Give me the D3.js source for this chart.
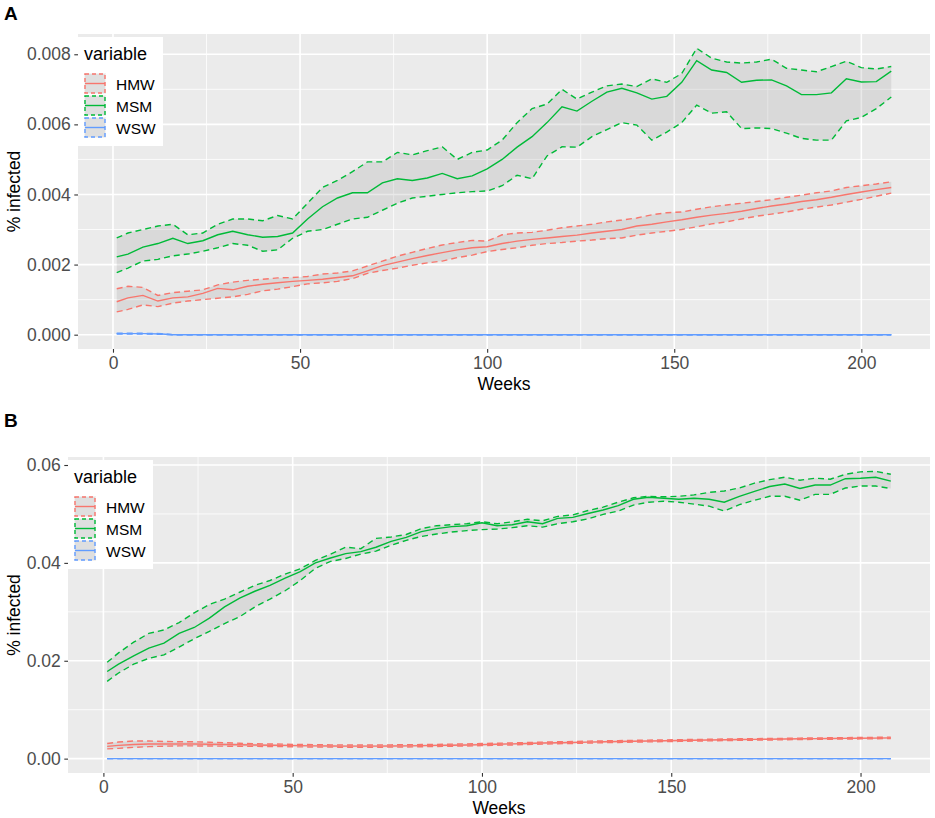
<!DOCTYPE html>
<html lang="en">
<head>
<meta charset="UTF-8">
<title>% infected by week</title>
<script src="https://d3js.org/d3.v7.min.js"></script>
<style>
  body { margin: 0; padding: 0; background: #fff; }
  svg { display: block; font-family: "Liberation Sans", Arial, Helvetica, sans-serif; }
</style>
</head>
<body>
<div id="chart"></div>
<script>
// ---- values ----
const seriesNames = ["HMW", "MSM", "WSW"];

// sampled weeks shared by the HMW / MSM series
const weeks = [1, 4, 8, 12, 16, 20, 24, 28, 32, 36,
  40, 44, 48, 52, 56, 60, 64, 68, 72, 76,
  80, 84, 88, 92, 96, 100, 104, 108, 112, 116,
  120, 124, 128, 132, 136, 140, 144, 148, 152, 156,
  160, 164, 168, 172, 176, 180, 184, 188, 192, 196,
  200, 204, 208];

const xTicks = [0, 50, 100, 150, 200];
const yTicksA = [0, 0.002, 0.004, 0.006, 0.008];
const yTicksB = [0, 0.02, 0.04, 0.06];

// panel A
const hmwA_mean = [0.00094, 0.00105, 0.00112, 0.00096, 0.00105, 0.00108, 0.00118, 0.00132, 0.00128, 0.00138,
  0.00144, 0.00148, 0.00152, 0.00155, 0.00158, 0.00163, 0.00168, 0.00182, 0.00197, 0.00207,
  0.00217, 0.00226, 0.00234, 0.00242, 0.00248, 0.00251, 0.00260, 0.00267, 0.00272, 0.00276,
  0.00280, 0.00284, 0.00290, 0.00295, 0.00300, 0.00310, 0.00315, 0.00322, 0.00328, 0.00335,
  0.00341, 0.00346, 0.00352, 0.00360, 0.00367, 0.00373, 0.00380, 0.00385, 0.00392, 0.00400,
  0.00407, 0.00414, 0.00420];
const hmwA_hi = [0.00131, 0.00138, 0.00135, 0.00112, 0.00120, 0.00124, 0.00128, 0.00142, 0.00150, 0.00155,
  0.00158, 0.00162, 0.00163, 0.00166, 0.00173, 0.00176, 0.00182, 0.00196, 0.00210, 0.00224,
  0.00235, 0.00246, 0.00256, 0.00263, 0.00269, 0.00267, 0.00285, 0.00290, 0.00292, 0.00298,
  0.00305, 0.00310, 0.00315, 0.00322, 0.00327, 0.00333, 0.00342, 0.00348, 0.00350, 0.00358,
  0.00365, 0.00370, 0.00375, 0.00380, 0.00385, 0.00392, 0.00398, 0.00405, 0.00410, 0.00420,
  0.00425, 0.00430, 0.00436];
const hmwA_lo = [0.00065, 0.00072, 0.00085, 0.00080, 0.00090, 0.00096, 0.00100, 0.00104, 0.00108, 0.00115,
  0.00125, 0.00130, 0.00137, 0.00145, 0.00148, 0.00152, 0.00160, 0.00175, 0.00183, 0.00190,
  0.00198, 0.00205, 0.00210, 0.00220, 0.00227, 0.00237, 0.00243, 0.00248, 0.00255, 0.00260,
  0.00263, 0.00267, 0.00270, 0.00274, 0.00276, 0.00284, 0.00290, 0.00295, 0.00300, 0.00308,
  0.00316, 0.00322, 0.00330, 0.00338, 0.00344, 0.00350, 0.00358, 0.00364, 0.00370, 0.00378,
  0.00386, 0.00395, 0.00404];

const msmA_mean = [0.00222, 0.00230, 0.00250, 0.00260, 0.00275, 0.00260, 0.00268, 0.00285, 0.00295, 0.00285,
  0.00278, 0.00280, 0.00290, 0.00330, 0.00365, 0.00390, 0.00405, 0.00405, 0.00433, 0.00445,
  0.00440, 0.00447, 0.00460, 0.00445, 0.00453, 0.00473, 0.00500, 0.00535, 0.00565, 0.00605,
  0.00650, 0.00638, 0.00666, 0.00692, 0.00703, 0.00690, 0.00672, 0.00680, 0.00720, 0.00782,
  0.00755, 0.00748, 0.00720, 0.00726, 0.00727, 0.00710, 0.00685, 0.00685, 0.00690, 0.00730,
  0.00721, 0.00722, 0.00752];
const msmA_hi = [0.00276, 0.00290, 0.00300, 0.00310, 0.00315, 0.00285, 0.00290, 0.00315, 0.00330, 0.00330,
  0.00325, 0.00340, 0.00330, 0.00375, 0.00420, 0.00440, 0.00465, 0.00493, 0.00493, 0.00520,
  0.00513, 0.00525, 0.00536, 0.00500, 0.00520, 0.00527, 0.00555, 0.00605, 0.00645, 0.00658,
  0.00700, 0.00672, 0.00692, 0.00710, 0.00715, 0.00708, 0.00730, 0.00720, 0.00745, 0.00817,
  0.00789, 0.00778, 0.00775, 0.00778, 0.00786, 0.00760, 0.00755, 0.00750, 0.00765, 0.00780,
  0.00762, 0.00758, 0.00765];
const msmA_lo = [0.00177, 0.00190, 0.00210, 0.00215, 0.00225, 0.00230, 0.00238, 0.00248, 0.00260, 0.00255,
  0.00238, 0.00242, 0.00275, 0.00295, 0.00300, 0.00315, 0.00330, 0.00335, 0.00355, 0.00375,
  0.00390, 0.00395, 0.00400, 0.00405, 0.00408, 0.00410, 0.00425, 0.00455, 0.00445, 0.00510,
  0.00536, 0.00535, 0.00565, 0.00585, 0.00605, 0.00598, 0.00555, 0.00578, 0.00605, 0.00655,
  0.00632, 0.00636, 0.00588, 0.00590, 0.00588, 0.00575, 0.00560, 0.00555, 0.00555, 0.00610,
  0.00620, 0.00645, 0.00678];

const wswA_weeks = [1, 8, 13, 16, 208];
const wswA_mean = [0.00003, 0.00003, 0.00002, 0, 0];
const wswA_hi = [0.00004, 0.00004, 0.00003, 0, 0];
const wswA_lo = [0.00002, 0.00002, 0.00001, 0, 0];

// panel B
const hmwB_mean = [0.00250, 0.00270, 0.00290, 0.00300, 0.00300, 0.00300, 0.00300, 0.00295, 0.00290, 0.00285,
  0.00280, 0.00275, 0.00270, 0.00265, 0.00260, 0.00258, 0.00255, 0.00255, 0.00255, 0.00258,
  0.00260, 0.00265, 0.00270, 0.00275, 0.00280, 0.00287, 0.00295, 0.00302, 0.00310, 0.00318,
  0.00325, 0.00330, 0.00338, 0.00345, 0.00350, 0.00355, 0.00360, 0.00365, 0.00370, 0.00375,
  0.00380, 0.00385, 0.00390, 0.00393, 0.00397, 0.00400, 0.00405, 0.00408, 0.00412, 0.00415,
  0.00418, 0.00420, 0.00425];
const hmwB_hi = [0.00310, 0.00340, 0.00360, 0.00360, 0.00350, 0.00345, 0.00345, 0.00335, 0.00325, 0.00315,
  0.00305, 0.00300, 0.00295, 0.00290, 0.00285, 0.00282, 0.00280, 0.00280, 0.00280, 0.00282,
  0.00285, 0.00288, 0.00292, 0.00297, 0.00302, 0.00308, 0.00315, 0.00322, 0.00330, 0.00337,
  0.00344, 0.00350, 0.00357, 0.00363, 0.00368, 0.00373, 0.00378, 0.00383, 0.00387, 0.00392,
  0.00396, 0.00401, 0.00405, 0.00408, 0.00412, 0.00415, 0.00420, 0.00423, 0.00427, 0.00430,
  0.00433, 0.00436, 0.00440];
const hmwB_lo = [0.00200, 0.00210, 0.00230, 0.00245, 0.00255, 0.00260, 0.00260, 0.00258, 0.00255, 0.00252,
  0.00250, 0.00248, 0.00245, 0.00240, 0.00237, 0.00235, 0.00233, 0.00232, 0.00232, 0.00235,
  0.00238, 0.00243, 0.00248, 0.00253, 0.00258, 0.00265, 0.00273, 0.00280, 0.00288, 0.00296,
  0.00304, 0.00310, 0.00318, 0.00325, 0.00331, 0.00337, 0.00342, 0.00347, 0.00352, 0.00358,
  0.00363, 0.00368, 0.00373, 0.00377, 0.00381, 0.00385, 0.00390, 0.00393, 0.00397, 0.00400,
  0.00403, 0.00406, 0.00410];

const msmB_mean = [0.0178, 0.0193, 0.0210, 0.0226, 0.0236, 0.0256, 0.0268, 0.0287, 0.0310, 0.0328,
  0.0342, 0.0354, 0.0369, 0.0382, 0.0400, 0.0410, 0.0419, 0.0423, 0.0432, 0.0444,
  0.0452, 0.0464, 0.0470, 0.0474, 0.0476, 0.0482, 0.0476, 0.0478, 0.0484, 0.0480,
  0.0491, 0.0493, 0.0501, 0.0508, 0.0517, 0.0530, 0.0534, 0.0532, 0.0530, 0.0532,
  0.0530, 0.0524, 0.0536, 0.0546, 0.0556, 0.0561, 0.0552, 0.0559, 0.0559, 0.0572,
  0.0573, 0.0575, 0.0567];
const msmB_hi = [0.0197, 0.0216, 0.0238, 0.0256, 0.0263, 0.0278, 0.0298, 0.0315, 0.0326, 0.0340,
  0.0354, 0.0364, 0.0377, 0.0388, 0.0405, 0.0418, 0.0432, 0.0429, 0.0450, 0.0453,
  0.0458, 0.0470, 0.0476, 0.0478, 0.0480, 0.0484, 0.0480, 0.0484, 0.0489, 0.0486,
  0.0495, 0.0498, 0.0507, 0.0514, 0.0524, 0.0533, 0.0536, 0.0535, 0.0536, 0.0539,
  0.0544, 0.0547, 0.0553, 0.0563, 0.0570, 0.0575, 0.0569, 0.0573, 0.0571, 0.0581,
  0.0586, 0.0587, 0.0581];
const msmB_lo = [0.0158, 0.0175, 0.0193, 0.0205, 0.0212, 0.0228, 0.0245, 0.0260, 0.0276, 0.0290,
  0.0310, 0.0326, 0.0343, 0.0364, 0.0389, 0.0403, 0.0409, 0.0418, 0.0424, 0.0436,
  0.0446, 0.0454, 0.0459, 0.0463, 0.0466, 0.0468, 0.0469, 0.0472, 0.0476, 0.0473,
  0.0480, 0.0484, 0.0490, 0.0499, 0.0506, 0.0518, 0.0524, 0.0526, 0.0524, 0.0520,
  0.0516, 0.0506, 0.0519, 0.0528, 0.0536, 0.0536, 0.0528, 0.0540, 0.0540, 0.0553,
  0.0557, 0.0557, 0.0552];

const wswB_weeks = [1, 208];
const wswB_mean = [0, 0];
const wswB_hi = [0, 0];
const wswB_lo = [0, 0];

// ---- styling ----
const colour = {HMW: "#F8766D", MSM: "#00BA38", WSW: "#619CFF"};
const panelBg = "#EBEBEB";
const ribbonFill = "#999999", ribbonAlpha = 0.22;
const lineW = 1.4, dash = "6,4";

const svg = d3.select("#chart").append("svg")
    .attr("width", 935)
    .attr("height", 818);

const panels = [
  {label: "A", labelY: 20, top: 34, bottom: 349, left: 78, right: 930,
   yTicks: yTicksA, yFormat: ".3f",
   series: [
     {name: "HMW", weeks: weeks, mean: hmwA_mean, lo: hmwA_lo, hi: hmwA_hi},
     {name: "MSM", weeks: weeks, mean: msmA_mean, lo: msmA_lo, hi: msmA_hi},
     {name: "WSW", weeks: wswA_weeks, mean: wswA_mean, lo: wswA_lo, hi: wswA_hi}
   ]},
  {label: "B", labelY: 427, top: 457, bottom: 773, left: 68, right: 930,
   yTicks: yTicksB, yFormat: ".2f",
   series: [
     {name: "HMW", weeks: weeks, mean: hmwB_mean, lo: hmwB_lo, hi: hmwB_hi},
     {name: "MSM", weeks: weeks, mean: msmB_mean, lo: msmB_lo, hi: msmB_hi},
     {name: "WSW", weeks: wswB_weeks, mean: wswB_mean, lo: wswB_lo, hi: wswB_hi}
   ]}
];

// ggplot-like 5% expansion of a continuous range
function expand(ext) {
  const pad = (ext[1] - ext[0]) * 0.05;
  return [ext[0] - pad, ext[1] + pad];
}

function drawPanel(p) {
  const rows = p.series.map(s => ({
    name: s.name,
    pts: s.weeks.map((w, i) => ({w: w, m: s.mean[i], lo: s.lo[i], hi: s.hi[i]}))
  }));
  const allPts = rows.flatMap(r => r.pts);

  const x = d3.scaleLinear()
      .domain(expand(d3.extent(allPts, d => d.w)))
      .range([p.left, p.right]);
  const y = d3.scaleLinear()
      .domain(expand([d3.min(allPts, d => d.lo), d3.max(allPts, d => d.hi)]))
      .range([p.bottom, p.top]);

  const g = svg.append("g");

  g.append("rect")
      .attr("x", p.left).attr("y", p.top)
      .attr("width", p.right - p.left).attr("height", p.bottom - p.top)
      .attr("fill", panelBg);

  // minor grid = midpoints between major breaks
  const xMinor = d3.pairs(xTicks).map(d => (d[0] + d[1]) / 2);
  const yMinor = d3.pairs(p.yTicks).map(d => (d[0] + d[1]) / 2);

  g.selectAll(".xminor").data(xMinor).join("line")
      .attr("x1", d => x(d)).attr("x2", d => x(d))
      .attr("y1", p.top).attr("y2", p.bottom)
      .attr("stroke", "#fff").attr("stroke-width", 0.8);
  g.selectAll(".yminor").data(yMinor).join("line")
      .attr("y1", d => y(d)).attr("y2", d => y(d))
      .attr("x1", p.left).attr("x2", p.right)
      .attr("stroke", "#fff").attr("stroke-width", 0.8);
  g.selectAll(".xmajor").data(xTicks).join("line")
      .attr("x1", d => x(d)).attr("x2", d => x(d))
      .attr("y1", p.top).attr("y2", p.bottom)
      .attr("stroke", "#fff").attr("stroke-width", 1.6);
  g.selectAll(".ymajor").data(p.yTicks).join("line")
      .attr("y1", d => y(d)).attr("y2", d => y(d))
      .attr("x1", p.left).attr("x2", p.right)
      .attr("stroke", "#fff").attr("stroke-width", 1.6);

  const area = d3.area().x(d => x(d.w)).y0(d => y(d.lo)).y1(d => y(d.hi));
  const lineLo = d3.line().x(d => x(d.w)).y(d => y(d.lo));
  const lineHi = d3.line().x(d => x(d.w)).y(d => y(d.hi));
  const lineM = d3.line().x(d => x(d.w)).y(d => y(d.m));

  // ribbons with dashed edges
  rows.forEach(r => {
    g.append("path").datum(r.pts)
        .attr("d", area)
        .attr("fill", ribbonFill).attr("fill-opacity", ribbonAlpha);
    [lineLo, lineHi].forEach(fn => {
      g.append("path").datum(r.pts)
          .attr("d", fn)
          .attr("fill", "none")
          .attr("stroke", colour[r.name])
          .attr("stroke-width", lineW)
          .attr("stroke-dasharray", dash);
    });
  });

  // mean lines
  rows.forEach(r => {
    g.append("path").datum(r.pts)
        .attr("d", lineM)
        .attr("fill", "none")
        .attr("stroke", colour[r.name])
        .attr("stroke-width", lineW);
  });

  // axes
  const yAxis = g.append("g")
      .attr("transform", `translate(${p.left},0)`)
      .call(d3.axisLeft(y).tickValues(p.yTicks).tickFormat(d3.format(p.yFormat))
        .tickSize(3.7).tickPadding(3.6));
  const xAxis = g.append("g")
      .attr("transform", `translate(0,${p.bottom})`)
      .call(d3.axisBottom(x).tickValues(xTicks).tickSize(3.7).tickPadding(4.3));
  [yAxis, xAxis].forEach(a => {
    a.select(".domain").remove();
    a.selectAll(".tick line").attr("stroke", "#333333").attr("stroke-width", 1.1);
    a.selectAll(".tick text")
        .attr("fill", "#4D4D4D")
        .style("font-size", "17.5px")
        .style("font-family", "'Liberation Sans', Arial, sans-serif");
  });

  // titles
  g.append("text")
      .attr("x", (p.left + p.right) / 2)
      .attr("y", p.bottom + 41)
      .attr("text-anchor", "middle")
      .style("font-size", "17.5px")
      .text("Weeks");
  g.append("text")
      .attr("transform", `translate(20,${(p.top + p.bottom) / 2}) rotate(-90)`)
      .attr("text-anchor", "middle")
      .style("font-size", "17.5px")
      .text("% infected");
  svg.append("text")
      .attr("x", 4).attr("y", p.labelY)
      .style("font-size", "19px")
      .style("font-weight", "bold")
      .text(p.label);

  // legend inside top-left of panel
  const lg = g.append("g").attr("transform", `translate(${p.left},${p.top + 3})`);
  lg.append("rect").attr("width", 85).attr("height", 109).attr("fill", "#fff");
  lg.append("text").attr("x", 6).attr("y", 23)
      .style("font-size", "18px").text("variable");
  seriesNames.forEach((name, i) => {
    const ky = 36 + i * 22;
    lg.append("rect").attr("x", 6).attr("y", ky).attr("width", 22).attr("height", 21)
        .attr("fill", "#F2F2F2");
    lg.append("rect").attr("x", 7).attr("y", ky + 1).attr("width", 20).attr("height", 19)
        .attr("fill", ribbonFill).attr("fill-opacity", ribbonAlpha)
        .attr("stroke", colour[name]).attr("stroke-width", lineW)
        .attr("stroke-dasharray", "4,3");
    lg.append("line").attr("x1", 7).attr("x2", 27)
        .attr("y1", ky + 10.5).attr("y2", ky + 10.5)
        .attr("stroke", colour[name]).attr("stroke-width", lineW);
    lg.append("text").attr("x", 38).attr("y", ky + 16.5)
        .style("font-size", "15.5px").text(name);
  });
}

panels.forEach(drawPanel);
</script>
</body>
</html>
